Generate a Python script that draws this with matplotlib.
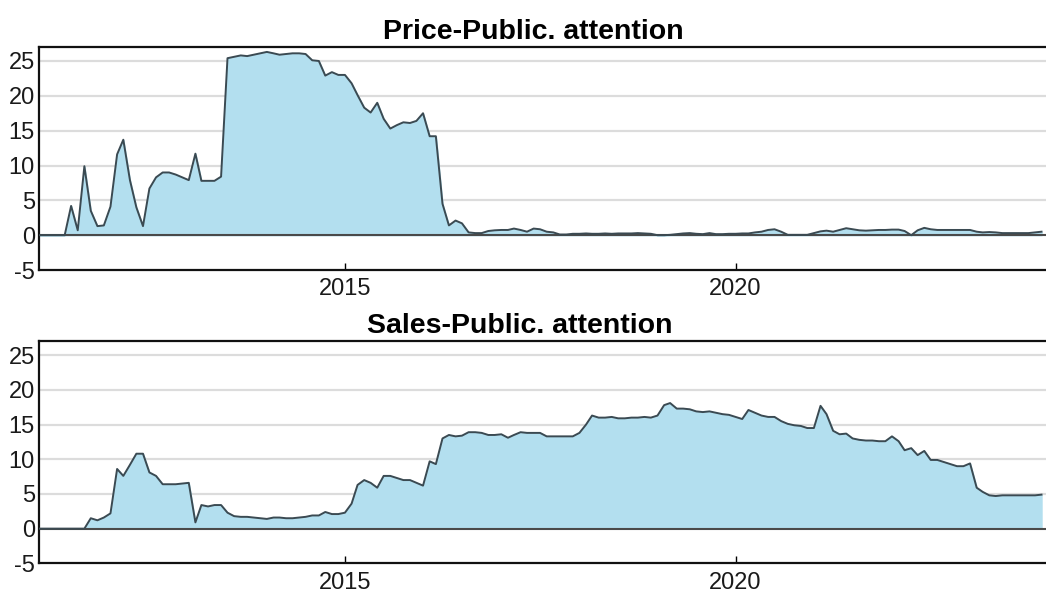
import numpy as np
import pandas as pd
import matplotlib
matplotlib.use("Agg")
import matplotlib.pyplot as plt

plt.rcParams['font.family'] = ['Liberation Sans', 'DejaVu Sans']

# monthly series, Feb 2011 .. Dec 2023
dates = pd.date_range("2011-02-01", periods=155, freq="MS")

price = [
    0, 0, 0, 0, 0, 4.2, 0.7, 9.9, 3.5, 1.3, 1.4, 4.1, 11.6, 13.7, 7.9, 4.0,
    1.3, 6.7, 8.3, 9.0, 9.0, 8.7, 8.3, 7.9, 11.7, 7.8, 7.8, 7.8, 8.4, 25.4,
    25.6, 25.8, 25.7, 25.9, 26.1, 26.3, 26.1, 25.9, 26.0, 26.1, 26.1, 26.0,
    25.1, 25.0, 22.9, 23.4, 23.0, 23.0, 21.8, 20.1, 18.3, 17.6, 19.0, 16.7,
    15.3, 15.8, 16.2, 16.1, 16.4, 17.5, 14.2, 14.2, 4.5, 1.4, 2.1, 1.7,
    0.4, 0.3, 0.3, 0.6, 0.7, 0.75, 0.75, 0.95, 0.75, 0.5, 0.95, 0.85, 0.5,
    0.4, 0.1, 0.1, 0.2, 0.2, 0.25, 0.2, 0.2, 0.25, 0.2, 0.25, 0.25, 0.25,
    0.3, 0.25, 0.2, 0.0, 0.0, 0.05, 0.15, 0.25, 0.3, 0.2, 0.15, 0.3, 0.15,
    0.15, 0.2, 0.2, 0.25, 0.25, 0.4, 0.5, 0.75, 0.85, 0.5, 0.05, 0.05, 0.05,
    0.05, 0.3, 0.55, 0.65, 0.5, 0.75, 1.0, 0.85, 0.7, 0.65, 0.7, 0.75, 0.75,
    0.8, 0.8, 0.6, 0.0, 0.7, 1.05, 0.85, 0.75, 0.75, 0.75, 0.75, 0.75, 0.75,
    0.5, 0.4, 0.45, 0.4, 0.3, 0.3, 0.3, 0.3, 0.3, 0.4, 0.5,
]

sales = [
    0, 0, 0, 0, 0, 0, 0, 0, 1.5, 1.2, 1.6, 2.2, 8.6, 7.6, 9.2, 10.8, 10.8,
    8.1, 7.6, 6.4, 6.4, 6.4, 6.5, 6.6, 0.9, 3.4, 3.2, 3.4, 3.4, 2.3, 1.8,
    1.7, 1.7, 1.6, 1.5, 1.4, 1.6, 1.6, 1.5, 1.5, 1.6, 1.7, 1.9, 1.9, 2.4,
    2.1, 2.1, 2.3, 3.6, 6.3, 7.0, 6.6, 5.9, 7.6, 7.6, 7.3, 7.0, 7.0, 6.6,
    6.2, 9.7, 9.3, 13.0, 13.5, 13.3, 13.4, 13.9, 13.9, 13.8, 13.5, 13.5,
    13.6, 13.1, 13.5, 13.9, 13.8, 13.8, 13.8, 13.3, 13.3, 13.3, 13.3, 13.3,
    13.8, 15.0, 16.3, 16.0, 16.0, 16.1, 15.9, 15.9, 16.0, 16.0, 16.1, 16.0,
    16.3, 17.8, 18.1, 17.3, 17.3, 17.2, 16.9, 16.8, 16.9, 16.7, 16.5, 16.4,
    16.1, 15.8, 17.1, 16.7, 16.3, 16.1, 16.1, 15.5, 15.1, 14.9, 14.8, 14.5,
    14.5, 17.7, 16.5, 14.1, 13.6, 13.7, 13.0, 12.8, 12.7, 12.7, 12.6, 12.6,
    13.3, 12.6, 11.3, 11.6, 10.6, 11.2, 9.9, 9.9, 9.6, 9.3, 9.0, 9.0, 9.4,
    5.9, 5.3, 4.8, 4.7, 4.8, 4.8, 4.8, 4.8, 4.8, 4.8, 4.9,
]

titles = ["Price-Public. attention", "Sales-Public. attention"]
title_x = [0.491, 0.477]
yticks = [-5, 0, 5, 10, 15, 20, 25]

fig = plt.figure(figsize=(10.46, 5.97), dpi=100)
ax1 = fig.add_axes([0.0373, 0.5477, 0.9627, 0.3735])
ax2 = fig.add_axes([0.0373, 0.0564, 0.9627, 0.3719])

for ax, vals, title, tx in zip([ax1, ax2], [price, sales], titles, title_x):
    v = np.array(vals)
    for g in yticks[2:]:
        ax.axhline(g, color="#dcdcdc", lw=1.6, zorder=0)
    ax.fill_between(dates, 0, v, color="#b3dfef", zorder=1)
    ax.plot(dates, v, color="#3b4a52", lw=1.4, zorder=3)
    ax.axhline(0, color="#4a4a4a", lw=1.5, zorder=2)
    ax.set_ylim(-5, 27)
    ax.set_xlim(dates[0], dates[-1] + pd.Timedelta(days=21))
    ax.set_yticks(yticks)
    ax.set_yticklabels([str(t) for t in yticks])
    ax.set_xticks([pd.Timestamp("2015-01-01"), pd.Timestamp("2020-01-01")])
    ax.set_xticklabels(["2015", "2020"])
    ax.tick_params(axis="y", length=0, pad=3, labelsize=17, labelcolor="#1a1a1a")
    ax.tick_params(axis="x", direction="in", length=5, width=1, pad=6,
                   labelsize=17, labelcolor="#1a1a1a")
    for s in ["left", "top", "bottom"]:
        ax.spines[s].set_linewidth(1.6)
        ax.spines[s].set_color("#111111")
    ax.spines["right"].set_visible(False)
    ax.set_title(title, x=tx, fontsize=20.5, fontweight="bold", pad=6)

fig.savefig("out.png", dpi=100)
